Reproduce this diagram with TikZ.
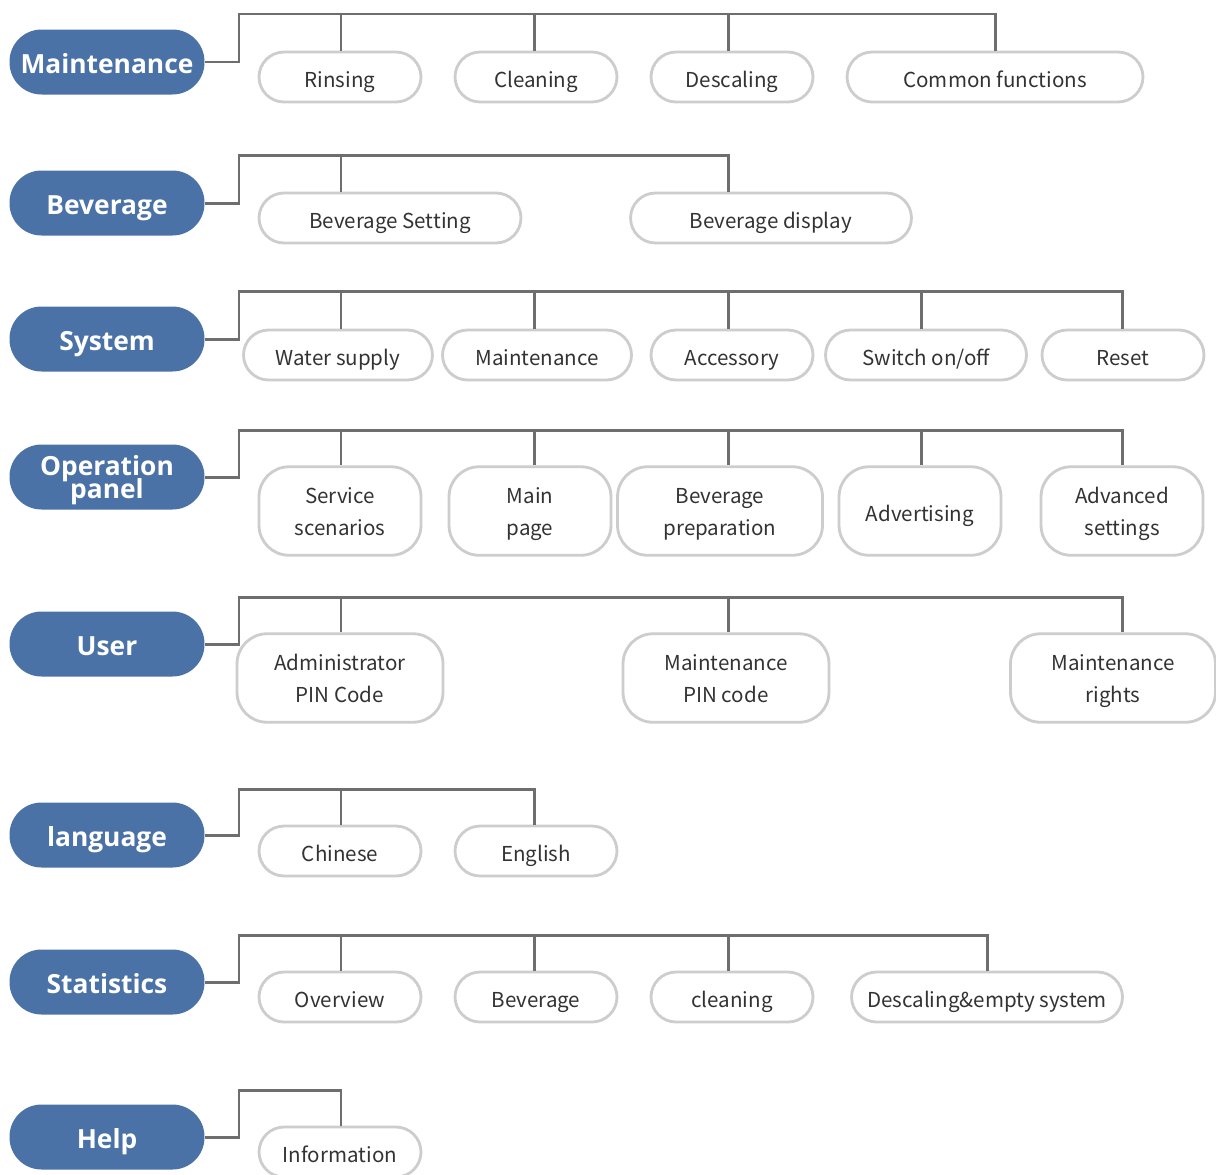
\documentclass[tikz,border=0pt]{standalone}
\usepackage{fontspec}
\usepackage{xcolor}
\usepackage{tikz}
\newfontfamily\rootfont{Open Sans}
\newfontfamily\leaffont{Noto Sans CJK SC}
\newcommand{\rootsize}{\fontsize{15}{13.6}\selectfont\lineskiplimit=-20pt\relax}
\definecolor{rootblue}{HTML}{4B72A6}
\definecolor{wiregray}{HTML}{6E6E6E}
\definecolor{leafgray}{HTML}{CDCDCD}
\definecolor{leaftext}{HTML}{333333}
\tikzset{
  root/.style={fill=rootblue,text=white,font=\rootfont\bfseries\rootsize,
    minimum width=3.9cm,minimum height=1.3cm,rounded corners=0.64cm,inner sep=0pt,align=center,
    text height=13pt,text depth=0pt},
  leaf/.style={draw=leafgray,line width=1.6pt,fill=white,text=leaftext,
    font=\leaffont\fontsize{11.7}{18}\selectfont,minimum width=#1,minimum height=1cm,
    rounded corners=0.5cm,inner sep=0pt,align=center,text height=11.4pt,text depth=0pt},
  leaf/.default=3.24cm,
  tall/.style={leaf=#1,minimum height=1.77cm,rounded corners=0.6cm,text height=30pt,text depth=2pt},
  tall/.default=3.24cm,
  wire/.style={draw=wiregray,line width=1.7pt}
}

\begin{document}
\begin{tikzpicture}[x=0.02cm,y=-0.02cm]
\useasboundingbox (0,0) rectangle (1216,1174);
% drop columns
\coordinate (col1) at (341,0);
\coordinate (col2) at (534,0);
\coordinate (col3) at (728,0);
\coordinate (col4) at (921,0);
\coordinate (col5) at (1122,0);

% Maintenance
\node[root] (mnt) at (107,62) {Maintenance};
\coordinate (mntbus) at (239,14);
\node[leaf] (rin) at (340,77) {Rinsing};
\node[leaf] (cln) at (536,77) {Cleaning};
\node[leaf] (dsc) at (732,77) {Descaling};
\node[leaf=5.92cm] (cf) at (995,77) {Common functions};
\draw[wire] (mnt.east) -| (mntbus) -| (cf.north);
\foreach \n/\c in {rin/col1,cln/col2,dsc/col3}
  \draw[wire] (mntbus -| \c) -- (\n.north -| \c);

% Beverage
\node[root] (bvg) at (107,203) {Beverage};
\coordinate (bvgbus) at (239,155);
\node[leaf=5.24cm] (bs) at (390,218) {Beverage Setting};
\node[leaf=5.62cm] (bd) at (771,218) {Beverage display};
\draw[wire] (bvg.east) -| (bvgbus) -| (bd.north -| col3);
\draw[wire] (bvgbus -| col1) -- (bs.north -| col1);

% System
\node[root] (sys) at (107,339) {System};
\coordinate (sysbus) at (239,291);
\node[leaf=3.78cm] (ws) at (338,355) {Water supply};
\node[leaf=3.78cm] (smt) at (537,355) {Maintenance};
\node[leaf] (acc) at (732,355) {Accessory};
\node[leaf=4.02cm] (sw) at (926,355) {Switch on/off};
\node[leaf] (rst) at (1123,355) {Reset};
\draw[wire] (sys.east) -| (sysbus) -| (rst.north -| col5);
\foreach \n/\c in {ws/col1,smt/col2,acc/col3,sw/col4}
  \draw[wire] (sysbus -| \c) -- (\n.north -| \c);

% Operation panel
\node[root,text height=25pt] (opp) at (107,477) {Operation\\panel};
\coordinate (oppbus) at (239,430);
\node[tall] (ss) at (340,511) {Service\\scenarios};
\node[tall] (mp) at (530,511) {Main\\page};
\node[tall=4.1cm] (bp) at (720,511) {Beverage\\preparation};
\node[tall,text height=11.4pt,text depth=0pt] (adv) at (920,511) {Advertising};
\node[tall] (as) at (1122,511) {Advanced\\settings};
\draw[wire] (opp.east) -| (oppbus) -| (as.north -| col5);
\foreach \n/\c in {ss/col1,mp/col2,bp/col3,adv/col4}
  \draw[wire] (oppbus -| \c) -- (\n.north -| \c);

% User
\node[root] (usr) at (107,644) {User};
\coordinate (usrbus) at (239,597);
\node[tall=4.12cm] (apc) at (340,678) {Administrator\\PIN Code};
\node[tall=4.12cm] (mpc) at (726,678) {Maintenance\\PIN code};
\node[tall=4.1cm] (mr) at (1113,678) {Maintenance\\rights};
\draw[wire] (usr.east) -| (usrbus) -| (mr.north -| col5);
\foreach \n/\c in {apc/col1,mpc/col3}
  \draw[wire] (usrbus -| \c) -- (\n.north -| \c);

% language
\node[root] (lng) at (107,835) {language};
\coordinate (lngbus) at (239,789);
\node[leaf] (chn) at (340,851) {Chinese};
\node[leaf] (eng) at (536,851) {English};
\draw[wire] (lng.east) -| (lngbus) -| (eng.north -| col2);
\draw[wire] (lngbus -| col1) -- (chn.north -| col1);

% Statistics
\node[root] (sta) at (107,982) {Statistics};
\coordinate (stabus) at (239,935);
\node[leaf] (ovw) at (340,997) {Overview};
\node[leaf] (sbv) at (536,997) {Beverage};
\node[leaf] (scl) at (732,997) {cleaning};
\node[leaf=5.42cm] (des) at (987,997) {Descaling\&empty system};
\draw[wire] (sta.east) -| (stabus) -| (des.north);
\foreach \n/\c in {ovw/col1,sbv/col2,scl/col3}
  \draw[wire] (stabus -| \c) -- (\n.north -| \c);

% Help
\node[root] (hlp) at (107,1137) {Help};
\coordinate (hlpbus) at (239,1090);
\node[leaf] (inf) at (340,1152) {Information};
\draw[wire] (hlp.east) -| (hlpbus) -| (inf.north -| col1);
\end{tikzpicture}
\end{document}
